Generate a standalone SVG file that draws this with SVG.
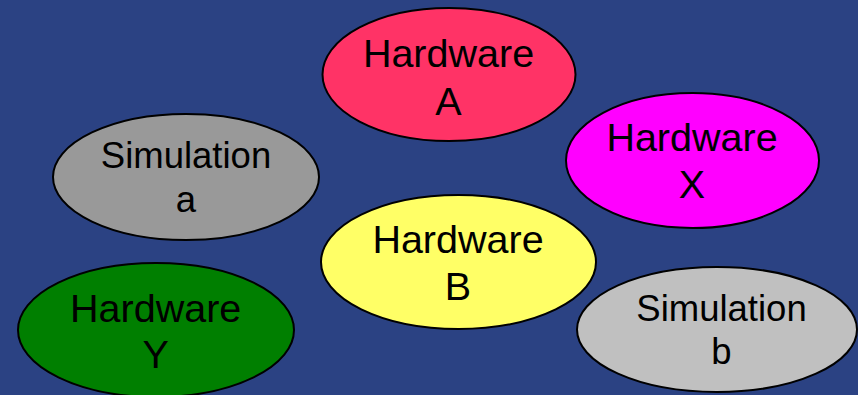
<svg xmlns="http://www.w3.org/2000/svg" width="858" height="395" viewBox="0 0 858 395">
<style>
.n ellipse{stroke:#000;stroke-width:2}
.n text{font-family:"Liberation Sans",Arial,sans-serif;fill:#000;text-anchor:middle}
.hw{font-size:39.5px}
.sim{font-size:36.5px}
</style>
<rect width="858" height="395" fill="#2b4283"/>
<g id="connectors"></g>
<g id="hardwareA" class="n">
<ellipse cx="449" cy="74.5" rx="126.5" ry="66.5" fill="#ff3366"/>
<text class="hw" x="448.5" y="67">Hardware</text>
<text class="hw" x="448.5" y="115">A</text>
</g>
<g id="simulationA" class="n">
<ellipse cx="186" cy="177" rx="133" ry="63" fill="#999999"/>
<text class="sim" x="186" y="167.7">Simulation</text>
<text class="sim" x="186" y="211.7">a</text>
</g>
<g id="hardwareX" class="n">
<ellipse cx="692.5" cy="160.5" rx="126.5" ry="67.5" fill="#ff00ff"/>
<text class="hw" x="692" y="151">Hardware</text>
<text class="hw" x="692" y="198">X</text>
</g>
<g id="hardwareB" class="n">
<ellipse cx="458.5" cy="262" rx="137.5" ry="67" fill="#ffff66"/>
<text class="hw" x="458" y="253.3">Hardware</text>
<text class="hw" x="458" y="300">B</text>
</g>
<g id="hardwareY" class="n">
<ellipse cx="156" cy="330" rx="138" ry="67" fill="#007f00"/>
<text class="hw" x="155.7" y="321.7">Hardware</text>
<text class="hw" x="155.7" y="368">Y</text>
</g>
<g id="simulationB" class="n">
<ellipse cx="717" cy="329.5" rx="140" ry="62.5" fill="#c0c0c0"/>
<text class="sim" x="721.5" y="320.7">Simulation</text>
<text class="sim" x="721.5" y="364.3">b</text>
</g>
</svg>
